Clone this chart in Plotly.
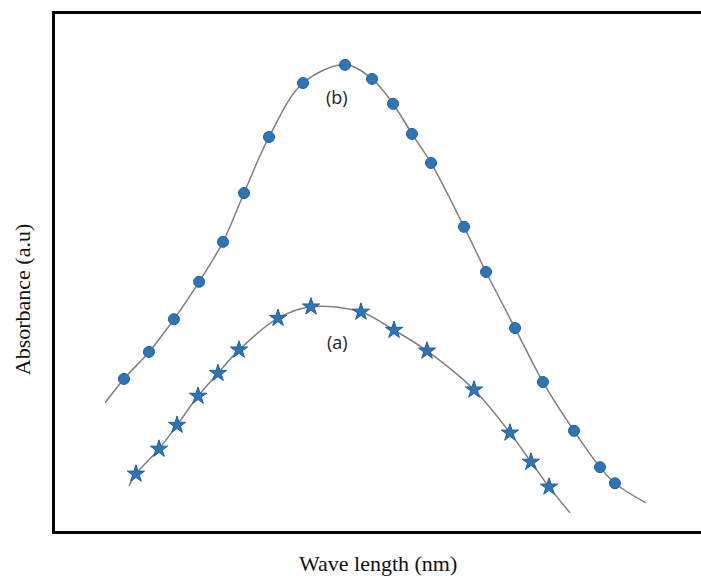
import plotly.graph_objects as go

# Curve (b): circle markers (wavelength in nm, absorbance a.u.)
b_wl = [355.1, 374.5, 393.9, 413.4, 432.0, 448.3, 467.7, 494.1, 526.7, 547.7,
        564.0, 578.7, 593.5, 619.1, 636.2, 658.7, 680.4, 704.5, 724.7, 736.3]
b_abs = [0.293, 0.345, 0.408, 0.480, 0.557, 0.651, 0.759, 0.863, 0.898, 0.871,
         0.823, 0.765, 0.709, 0.586, 0.499, 0.391, 0.287, 0.193, 0.123, 0.092]
b_line_start = (340.4, 0.247)
b_line_end = (760.4, 0.054)

# Curve (a): star markers
a_wl = [364.4, 382.3, 396.3, 412.6, 428.1, 444.4, 474.7, 500.3, 539.1, 564.8,
        590.4, 626.9, 654.8, 671.1, 685.1]
a_abs = [0.110, 0.158, 0.204, 0.260, 0.304, 0.349, 0.410, 0.432, 0.422, 0.387,
         0.347, 0.272, 0.189, 0.133, 0.085]
a_line_start = (359.0, 0.087)
a_line_end = (701.4, 0.035)

labels = ["(b)", "(a)"]
label_pos = [(520.5, 0.836), (520.5, 0.364)]

blue = "#2E75B6"
edge = "#1F5F9E"
gray = "#7F7F7F"

fig = go.Figure()

for (s, e, xs, ys) in [(b_line_start, b_line_end, b_wl, b_abs),
                       (a_line_start, a_line_end, a_wl, a_abs)]:
    fig.add_trace(go.Scatter(
        x=[s[0]] + xs + [e[0]], y=[s[1]] + ys + [e[1]],
        mode="lines", line=dict(color=gray, width=1.5, shape="spline", smoothing=1.0),
        hoverinfo="skip", showlegend=False))

fig.add_trace(go.Scatter(x=b_wl, y=b_abs, mode="markers", showlegend=False,
                         marker=dict(symbol="circle", size=11, color=blue,
                                     line=dict(color=edge, width=1))))
fig.add_trace(go.Scatter(x=a_wl, y=a_abs, mode="markers", showlegend=False,
                         marker=dict(symbol="star", size=13, color=blue,
                                     line=dict(color=edge, width=1))))

annotations = []
for t, (x, y) in zip(labels, label_pos):
    annotations.append(dict(x=x, y=y, xref="x", yref="y", text=t, showarrow=False,
                            font=dict(family="Open Sans, Liberation Sans", size=18, color="#222222"),
                            xanchor="center", yanchor="middle"))
annotations.append(dict(x=-0.049, y=0.449, xref="paper", yref="paper",
                        text="Absorbance (a.u)", showarrow=False, textangle=-90,
                        font=dict(family="Liberation Serif, Times New Roman", size=22, color="#111111"),
                        xanchor="center", yanchor="middle"))
annotations.append(dict(x=0.500, y=-0.062, xref="paper", yref="paper",
                        text="Wave length (nm)", showarrow=False,
                        font=dict(family="Liberation Serif, Times New Roman", size=22, color="#111111"),
                        xanchor="center", yanchor="middle"))

fig.update_layout(
    width=701, height=578,
    margin=dict(l=55, r=0, t=14, b=47),
    plot_bgcolor="white", paper_bgcolor="white",
    annotations=annotations,
    xaxis=dict(range=[301.55, 803.1], showgrid=False, zeroline=False, showticklabels=False,
               ticks="", showline=True, linecolor="black", linewidth=3, mirror=True),
    yaxis=dict(range=[0, 0.996], showgrid=False, zeroline=False, showticklabels=False,
               ticks="", showline=True, linecolor="black", linewidth=3, mirror=False),
)

fig.write_html("out.html", config={"displayModeBar": False},
               post_script="document.body.style.margin='0';document.body.style.overflow='hidden';")
